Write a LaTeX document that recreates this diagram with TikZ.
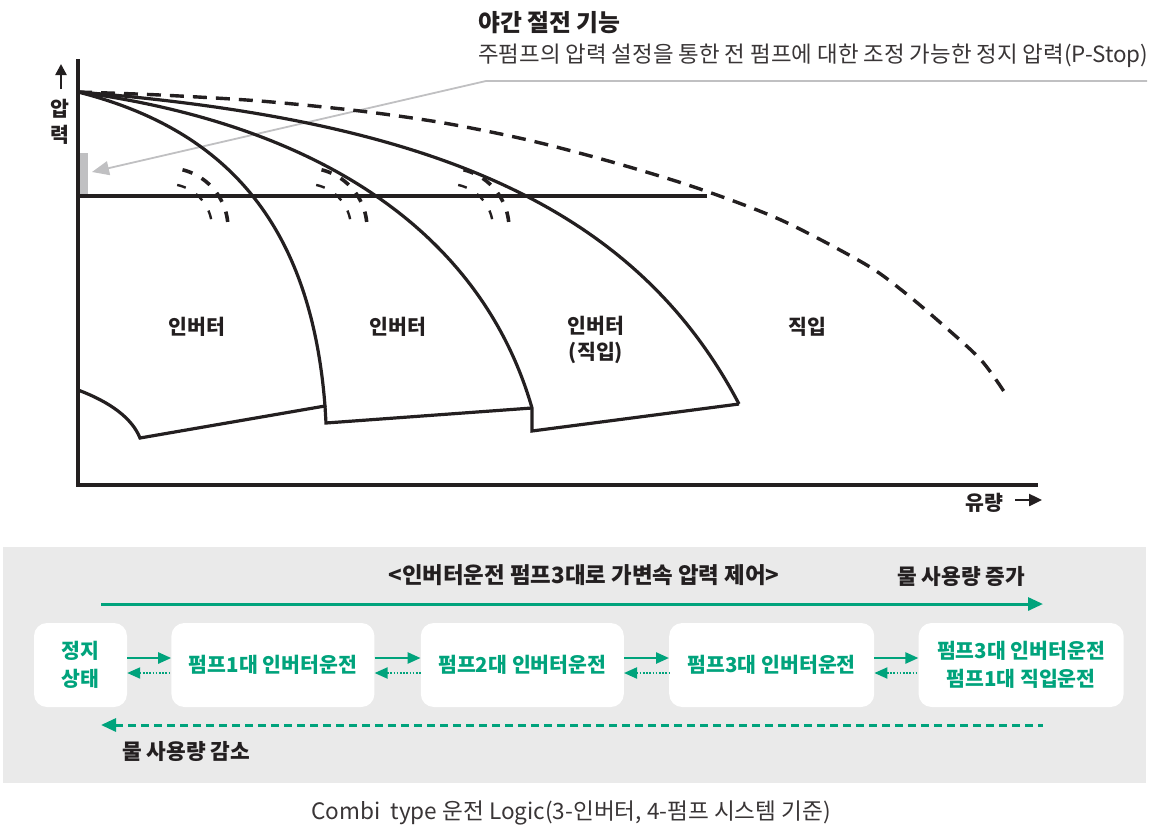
\documentclass[tikz,border=0pt]{standalone}
\usepackage{fontspec}
\setmainfont{Noto Sans CJK KR}
\usetikzlibrary{arrows.meta,positioning}
\definecolor{pgreen}{RGB}{0,163,124}
\definecolor{ink}{RGB}{35,31,32}
\definecolor{panelgray}{RGB}{234,234,234}
\definecolor{pointer}{RGB}{192,192,194}
\tikzset{
  curve/.style={line width=3.2pt, draw=ink},
  axis/.style={line width=3.6pt, draw=ink},
  lbl/.style={font=\fontsize{20.5}{26}\selectfont\bfseries, text=ink, align=center, inner sep=0pt},
  head/.style={font=\fontsize{21.4}{24}\selectfont\bfseries, text=ink, inner sep=0pt},
  box/.style={fill=white, rounded corners=13pt, minimum height=84pt, inner sep=0pt, align=center,
    text=pgreen, font=\fontsize{20.5}{28}\selectfont\bfseries},
  go/.style={line width=2.4pt, draw=pgreen, -{Triangle[length=13pt,width=11pt]}},
  back/.style={line width=2pt, draw=pgreen, dash pattern=on 1.6pt off 1.6pt, {Triangle[length=13pt,width=11pt]}-},
  big/.style={line width=3pt, draw=pgreen},
  outerdash/.style={line width=3.6pt, draw=ink, dash pattern=on 10.5pt off 10.5pt},
  innerdash/.style={line width=2.4pt, draw=ink, dash pattern=on 9pt off 12pt}
}
\begin{document}
\begin{tikzpicture}[x=1pt,y=-1pt]
\useasboundingbox (0,0) rectangle (1158,827);
%Title
\node[anchor=west, inner sep=0pt, font=\fontsize{23.8}{26}\selectfont\bfseries, text=ink] (title) at (478,23) {야간 절전 기능};
\node[anchor=west, inner sep=0pt, font=\fontsize{22.4}{26}\selectfont, text=ink!90] (sub) at (478,56) {주펌프의 압력 설정을 통한 전 펌프에 대한 조정 가능한 정지 압력(P-Stop)};
%P-Stop bar
\fill[pointer] (79,153) rectangle (88,196);
\coordinate (p1) at (1147,81);
\coordinate (p2) at (486,81);
\coordinate (pbar) at (92,172);
\draw[pointer, line width=1.8pt, -{Triangle[length=17pt,width=14pt]}] (p1) -- (p2) -- (pbar);
%Axes
\draw[axis] (77.7,59) -- (77.7,485) -- (1038,485);
\node[lbl] (pres) at (60,122) {압\\력};
\draw[line width=2.4pt, ink, -{Triangle[length=11pt,width=11pt]}] (61,89) -- (61,64);
\node[lbl, anchor=west] (flow) at (965,503) {유량};
\draw[line width=2.4pt, ink, -{Triangle[length=13pt,width=12pt]}] (1015,500) -- (1042,500);
%Stop pressure
\draw[axis, line width=3.4pt] (78,196) -- (707,196);
%Direct curve
\draw[curve, line width=3.4pt, dash pattern=on 14pt off 9pt] plot[smooth] coordinates {(78,92) (160,95) (260,101) (360,111) (444,123) (528,140) (612,162) (697,188) (781,220) (865,264) (904,292) (943,325) (981,360) (1005,393)};
%Inverter curves
\draw[curve] (78,92) .. controls (228,130) and (311,226) .. (325,406) -- (140,438) .. controls (132,418) and (110,402) .. (78,390);
\draw[curve] (325,406) -- (326,423) -- (532,408);
\draw[curve] (78,92) .. controls (328,126) and (483,238) .. (532,408) -- (532,431) -- (739,404);
\draw[curve] (78,92) .. controls (428,120) and (634,204) .. (739,404);
%Efficiency marks
\foreach \cx in {168,307,449}{
  \draw[outerdash] plot[domain=-76:-5, samples=40] ({\cx+60*cos(\x)},{228+60*sin(\x)});
  \draw[innerdash] plot[domain=-78:-8, samples=40] ({\cx+44*cos(\x)},{228+44*sin(\x)});
}
%Region labels
\node[lbl] (inv1) at (197,327) {인버터};
\node[lbl] (inv2) at (398,327) {인버터};
\node[lbl] (inv3) at (596,340) {인버터\\(직입)};
\node[lbl] (direct) at (807,327) {직입};
%Panel
\fill[panelgray] (3,547) rectangle (1146,783);
\node[head, font=\fontsize{22.4}{24}\selectfont\bfseries] (plan) at (584,575) {<인버터운전 펌프3대로 가변속 압력 제어>};
\node[head] (more) at (961,576) {물 사용량 증가};
\node[head, anchor=west] (less) at (122,751) {물 사용량 감소};
\coordinate (upL) at (101,604);
\coordinate (upR) at (1043,604);
\draw[big, -{Triangle[length=15pt,width=13pt]}] (upL) -- (upR);
\coordinate (dnL) at (101,725);
\coordinate (dnR) at (1043,725);
\draw[big, dash pattern=on 8pt off 5pt, {Triangle[length=15pt,width=13pt]}-] (dnL) -- (dnR);
%Stages
\node[box, minimum width=93pt] (s0) at (80.5,665) {정지\\상태};
\node[box, minimum width=203pt, right=44pt of s0] (s1) {펌프1대 인버터운전};
\node[box, minimum width=203pt, right=46pt of s1] (s2) {펌프2대 인버터운전};
\node[box, minimum width=205pt, right=45pt of s2] (s3) {펌프3대 인버터운전};
\node[box, minimum width=205pt, right=44pt of s3] (s4) {펌프3대 인버터운전\\펌프1대 직입운전};
\foreach \a/\b in {s0/s1,s1/s2,s2/s3,s3/s4}{
  \draw[go] ([yshift=7pt]\a.east) -- ([yshift=7pt]\b.west);
  \draw[back] ([yshift=-8pt]\a.east) -- ([yshift=-8pt]\b.west);
}
%Caption
\node[inner sep=0pt, font=\fontsize{22.6}{26}\selectfont, text=ink!90] (cap) at (571,813) {Combi\ \ type 운전 Logic(3-인버터, 4-펌프 시스템 기준)};
\end{tikzpicture}
\end{document}
